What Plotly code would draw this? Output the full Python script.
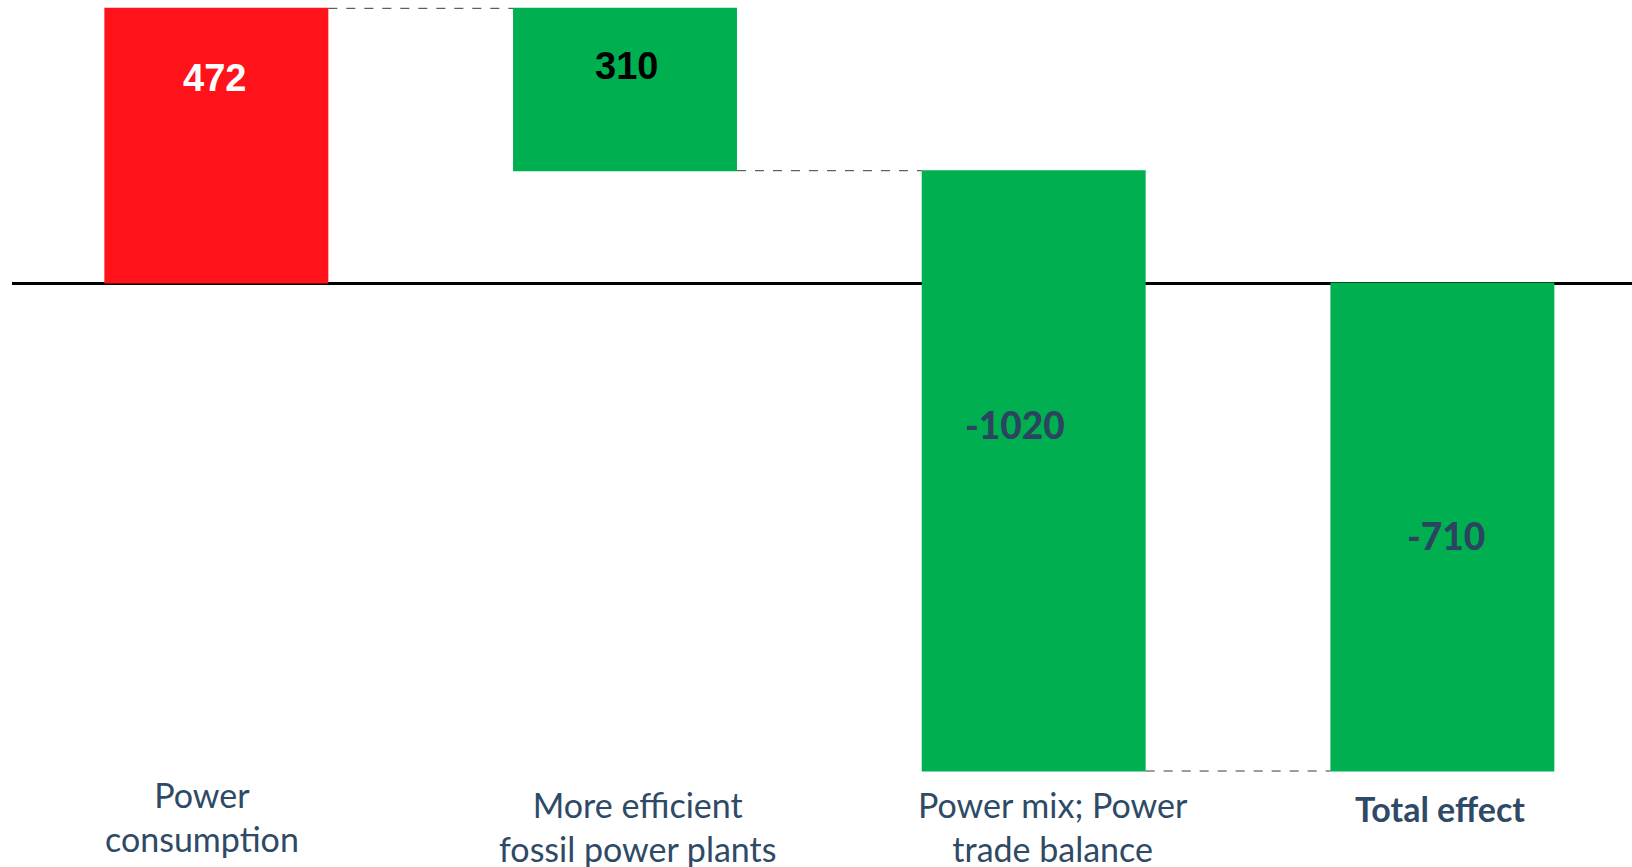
import plotly.graph_objects as go

# ---- data ----
categories = ["Power consumption", "More efficient fossil power plants",
              "Power mix; Power trade balance", "Total effect"]
measures = ["relative", "relative", "relative", "total"]
deltas = [472, -279, -1031.5, 0]          # bar geometry as drawn
value_labels = ["472", "310", "-1020", "-710"]
tick_labels = ["Power<br>consumption", "More efficient<br>fossil power plants",
               "Power mix; Power<br>trade balance", "<b>Total effect</b>"]

RED = "#FF1219"
GREEN = "#00B050"
SLATE = "#2E4A66"

fig = go.Figure(go.Waterfall(
    x=categories,
    y=deltas,
    measure=measures,
    width=0.548,
    increasing=dict(marker=dict(color=RED)),
    decreasing=dict(marker=dict(color=GREEN)),
    totals=dict(marker=dict(color=GREEN)),
    connector=dict(mode="between", line=dict(color="#3a3a3a", width=1, dash="dash")),
    textinfo="none",
    hoverinfo="skip",
    showlegend=False,
))

# bar spans for placing the value labels
bases, ends = [], []
running = 0.0
for m, d in zip(measures, deltas):
    if m == "total":
        bases.append(0.0); ends.append(running)
    else:
        bases.append(running); running += d; ends.append(running)

label_frac = [0.255, 0.355, 0.422, 0.518]
label_xshift = [-2, 1, -19, 4]
label_fonts = [
    dict(family="Liberation Sans, Arial", size=38, color="white", weight=700),
    dict(family="Liberation Sans, Arial", size=38, color="black", weight=700),
    dict(family="Lato", size=37, color="#2B4560", weight=900),
    dict(family="Lato", size=37, color="#2B4560", weight=900),
]
for i, cat in enumerate(categories):
    top = max(bases[i], ends[i]); bot = min(bases[i], ends[i])
    yv = top - label_frac[i] * (top - bot)
    fig.add_annotation(x=cat, y=yv, xref="x", yref="y", text=value_labels[i],
                       showarrow=False, xanchor="center", yanchor="middle",
                       xshift=label_xshift[i], font=label_fonts[i])

# category labels below the bars
tick_top_px = [772, 782, 782, 786]
tick_xshift = [-14.5, 12, 19, -2]
H = 867
for i, cat in enumerate(categories):
    fig.add_annotation(x=cat, y=1 - tick_top_px[i] / H, xref="x", yref="paper",
                       text=tick_labels[i], showarrow=False, xanchor="center", yanchor="top",
                       xshift=tick_xshift[i], align="center",
                       font=dict(family="Lato", size=34, color=SLATE))

fig.update_layout(
    width=1632, height=867,
    margin=dict(l=12, r=0, t=0, b=0),
    paper_bgcolor="white", plot_bgcolor="white",
    xaxis=dict(range=[-0.5, 3.464], showticklabels=False, showgrid=False,
               zeroline=False, showline=False, ticks=""),
    yaxis=dict(range=[-1003.4, 486.3], showticklabels=False, showgrid=False,
               zeroline=True, zerolinecolor="black", zerolinewidth=2.5,
               showline=False, ticks=""),
)

fig.write_html("out.html")
